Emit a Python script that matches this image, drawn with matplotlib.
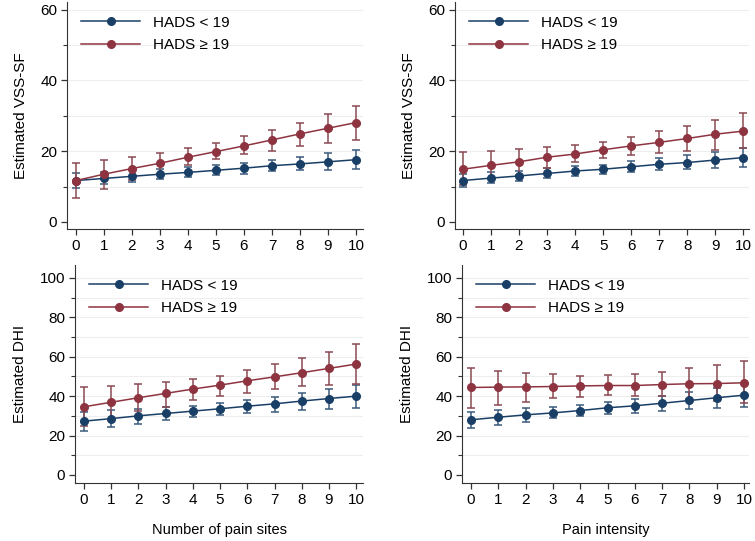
import numpy as np
import matplotlib.pyplot as plt
from matplotlib.ticker import MultipleLocator

plt.rcParams['font.family'] = ['Liberation Sans', 'DejaVu Sans']

x = np.arange(11)

# VSS-SF por numero de sitios de dolor
vss_sites_low = [11.7, 12.3, 12.9, 13.5, 14.0, 14.6, 15.2, 15.9, 16.4, 17.0, 17.6]
vss_sites_low_lo = [9.7, 10.6, 11.3, 12.1, 12.6, 13.3, 13.6, 14.3, 14.6, 14.8, 15.0]
vss_sites_low_hi = [13.9, 14.2, 14.6, 15.0, 15.5, 16.0, 16.8, 17.6, 18.5, 19.4, 20.4]
vss_sites_high = [11.7, 13.5, 15.1, 16.6, 18.3, 19.9, 21.5, 23.2, 24.9, 26.5, 28.1]
vss_sites_high_lo = [6.8, 9.2, 11.8, 13.6, 16.0, 17.7, 19.3, 20.1, 21.5, 22.2, 23.3]
vss_sites_high_hi = [16.6, 17.5, 18.5, 19.6, 20.8, 22.2, 24.2, 26.0, 28.1, 30.4, 32.8]

# VSS-SF por intensidad del dolor
vss_int_low = [11.7, 12.4, 13.0, 13.7, 14.4, 14.9, 15.6, 16.3, 16.8, 17.5, 18.2]
vss_int_low_lo = [10.0, 10.9, 11.5, 12.3, 13.0, 13.6, 14.2, 14.6, 15.0, 15.3, 15.5]
vss_int_low_hi = [13.5, 14.0, 14.5, 15.2, 15.8, 16.2, 17.1, 18.0, 18.8, 19.9, 20.8]
vss_int_high = [14.9, 16.0, 17.0, 18.3, 19.2, 20.4, 21.5, 22.5, 23.6, 24.8, 25.7]
vss_int_high_lo = [10.5, 12.0, 13.3, 15.2, 16.9, 18.2, 18.9, 19.6, 20.0, 20.3, 20.8]
vss_int_high_hi = [19.9, 20.2, 20.5, 21.2, 21.8, 22.7, 24.0, 25.6, 27.2, 28.9, 30.7]

# DHI por numero de sitios de dolor
dhi_sites_low = [27.3, 28.6, 30.0, 31.2, 32.4, 33.6, 34.9, 36.1, 37.5, 38.8, 40.0]
dhi_sites_low_lo = [22.5, 24.3, 26.0, 27.8, 29.5, 30.6, 31.3, 32.2, 33.0, 33.6, 34.0]
dhi_sites_low_hi = [31.7, 32.8, 33.6, 34.6, 35.2, 36.6, 38.2, 39.8, 41.6, 43.5, 45.8]
dhi_sites_high = [34.6, 36.9, 39.2, 41.4, 43.6, 45.6, 47.8, 49.8, 51.9, 54.1, 56.3]
dhi_sites_high_lo = [24.6, 28.3, 32.3, 34.5, 37.9, 40.3, 41.5, 43.5, 45.0, 45.7, 46.3]
dhi_sites_high_hi = [44.9, 45.4, 46.3, 47.3, 48.6, 50.3, 53.1, 56.1, 59.2, 62.5, 66.3]

# DHI por intensidad del dolor
dhi_int_low = [28.0, 29.3, 30.5, 31.5, 32.7, 34.1, 35.1, 36.4, 37.8, 39.2, 40.5]
dhi_int_low_lo = [23.9, 25.5, 27.0, 28.7, 30.0, 30.8, 31.6, 32.7, 33.5, 34.0, 34.6]
dhi_int_low_hi = [32.0, 33.0, 33.9, 34.5, 35.5, 37.2, 38.8, 40.3, 42.1, 43.9, 46.0]
dhi_int_high = [44.4, 44.6, 44.7, 44.9, 45.2, 45.4, 45.4, 45.9, 46.3, 46.4, 46.8]
dhi_int_high_lo = [33.9, 35.6, 37.2, 39.0, 39.8, 40.5, 40.2, 40.0, 38.7, 37.6, 36.3]
dhi_int_high_hi = [54.2, 53.0, 52.0, 51.2, 50.3, 50.8, 51.3, 52.4, 54.2, 55.8, 57.6]

NAVY = "#1a3f66"
NAVY_BAR = "#3a5a7a"
MAROON = "#8e3440"
MAROON_BAR = "#8a4a52"

W, H = 755, 541
fig = plt.figure(figsize=(W / 100, H / 100), dpi=100)


def panel(px_left, px_right, px_top, px_bottom, xlim, ylim, ymax_major,
          low, low_lo, low_hi, high, high_lo, high_hi, ylabel, xlabel=None):
    ax = fig.add_axes([px_left / W, 1 - px_bottom / H,
                       (px_right - px_left) / W, (px_bottom - px_top) / H])
    step = 20
    for y in np.arange(step / 2, ymax_major + 0.1, step / 2):
        ax.axhline(y, color="#eeeeee", lw=0.8, zorder=0)
    for m, lo, hi, c, cb, lab in [(low, low_lo, low_hi, NAVY, NAVY_BAR, "HADS < 19"),
                                  (high, high_lo, high_hi, MAROON, MAROON_BAR, "HADS ≥ 19")]:
        m = np.array(m)
        err = [m - np.array(lo), np.array(hi) - m]
        ax.errorbar(x, m, yerr=err, fmt="none", ecolor=cb, elinewidth=1.1,
                    capsize=3.2, capthick=1.1, zorder=2)
        ax.plot(x, m, color=c, lw=1.1, marker="o", ms=5.5, mfc=c, mec=c,
                label=lab, zorder=3)
    ax.set_xlim(*xlim)
    ax.set_ylim(*ylim)
    ax.set_xticks(x)
    ax.yaxis.set_major_locator(MultipleLocator(step))
    ax.yaxis.set_minor_locator(MultipleLocator(step / 2))
    ax.spines[["top", "right"]].set_visible(False)
    ax.spines[["left", "bottom"]].set_color("#333333")
    ax.tick_params(axis="both", which="major", length=4, width=0.9,
                   labelsize=11, color="#333333", pad=3)
    ax.tick_params(axis="y", which="minor", length=3, width=0.8, color="#333333")
    ax.set_ylabel(ylabel, fontsize=11, labelpad=9)
    if xlabel:
        ax.set_xlabel(xlabel, fontsize=10.5, labelpad=12)
    ax.legend(loc="upper left", bbox_to_anchor=(0.0, 1.0), frameon=False,
              fontsize=11, handlelength=3.9, handletextpad=0.8,
              labelspacing=0.55, borderaxespad=0.5)
    return ax


panel(67, 363, 2, 229, (-0.32, 10.25), (-2.0, 62.2), 60,
      vss_sites_low, vss_sites_low_lo, vss_sites_low_hi,
      vss_sites_high, vss_sites_high_lo, vss_sites_high_hi, "Estimated VSS-SF")
panel(455, 749, 2, 229, (-0.28, 10.2), (-2.0, 62.2), 60,
      vss_int_low, vss_int_low_lo, vss_int_low_hi,
      vss_int_high, vss_int_high_lo, vss_int_high_hi, "Estimated VSS-SF")
panel(75, 363, 265, 483, (-0.33, 10.25), (-4.1, 106.6), 100,
      dhi_sites_low, dhi_sites_low_lo, dhi_sites_low_hi,
      dhi_sites_high, dhi_sites_high_lo, dhi_sites_high_hi, "Estimated DHI",
      "Number of pain sites")
panel(462, 749, 265, 483, (-0.33, 10.18), (-4.1, 106.6), 100,
      dhi_int_low, dhi_int_low_lo, dhi_int_low_hi,
      dhi_int_high, dhi_int_high_lo, dhi_int_high_hi, "Estimated DHI",
      "Pain intensity")

fig.savefig("out.png", dpi=100)
